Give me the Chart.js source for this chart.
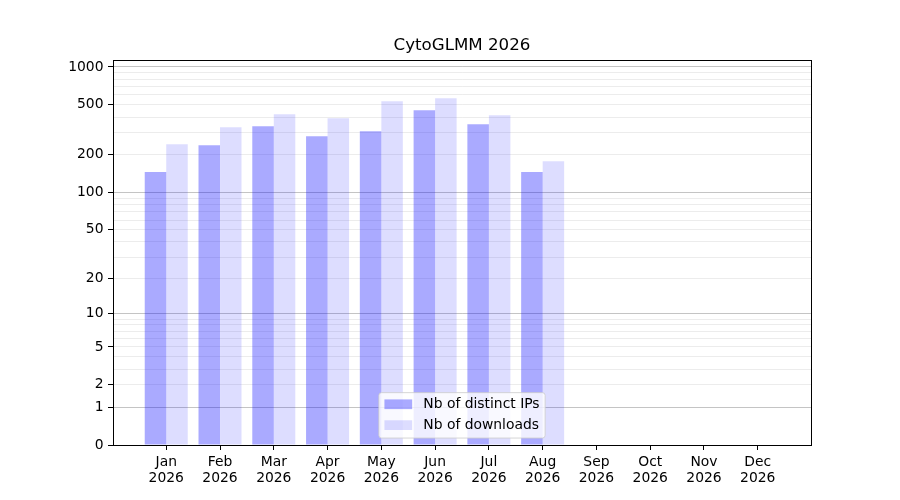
<!DOCTYPE html>
<html><head><meta charset="utf-8">
<script src="https://cdn.jsdelivr.net/npm/chart.js@4.4.1/dist/chart.umd.min.js"></script>
<style>html,body{margin:0;padding:0;background:#fff}#wrap{width:900px;height:500px;position:relative}</style>
</head><body><div id="wrap"><canvas id="c"></canvas></div>
<script>
// ---- data ----
const chartTitle = 'CytoGLMM 2026';
const monthLabels = [['Jan','2026'],['Feb','2026'],['Mar','2026'],['Apr','2026'],['May','2026'],['Jun','2026'],
                     ['Jul','2026'],['Aug','2026'],['Sep','2026'],['Oct','2026'],['Nov','2026'],['Dec','2026']];
const distinctIPs = [146, 238, 338, 281, 308, 453, 350, 146, 0, 0, 0, 0];
const downloads   = [243, 332, 421, 391, 534, 564, 413, 178, 0, 0, 0, 0];
const seriesNames = ['Nb of distinct IPs', 'Nb of downloads'];
const yTickLabels = [0, 1, 2, 5, 10, 20, 50, 100, 200, 500, 1000];
const yGridValues = [0, 1, 2, 3, 4, 5, 6, 7, 8, 9, 10, 20, 30, 40, 50, 60, 70, 80, 90,
                     100, 200, 300, 400, 500, 600, 700, 800, 900, 1000];
const yMajorGrid = [1, 10, 100, 1000];

const FONT = 'DejaVu Sans';
const FS = 13.89;

// ---- log10(1+x) scale ----
class Log1pScale extends Chart.Scale {
  static id = 'log1p';
  static defaults = {};
  determineDataLimits() {
    const mm = this.getMinMax(true);
    this.min = (this.options.min !== undefined) ? this.options.min : Math.max(0, mm.min);
    this.max = (this.options.max !== undefined) ? this.options.max : mm.max;
  }
  buildTicks() {
    return yGridValues.filter(v => v >= this.min && v <= this.max).map(v => ({value: v}));
  }
  configure() {
    super.configure();
    this._startValue = Math.log10(1 + this.min);
    this._valueRange = Math.log10(1 + this.max) - this._startValue;
  }
  getPixelForValue(value) {
    if (value === null || value === undefined || isNaN(value)) return NaN;
    return this.getPixelForDecimal((Math.log10(1 + Math.max(value, 0)) - this._startValue) / this._valueRange);
  }
  getValueForPixel(pixel) {
    return Math.pow(10, this._startValue + this.getDecimalForPixel(pixel) * this._valueRange) - 1;
  }
  getLabelForValue(value) { return String(value); }
}
Chart.register(Log1pScale);

const colIP = 'rgba(0,0,255,0.333)';
const colDL = 'rgba(0,0,255,0.135)';

// ---- frame + legend plugin ----
const frameLegend = {
  id: 'frameLegend',
  afterDatasetsDraw(chart) {
    const {ctx, chartArea: a} = chart;
    ctx.save();
    const al = p => Math.round(p - 0.5) + 0.5;
    ctx.strokeStyle = '#000';
    ctx.lineWidth = 1;
    ctx.strokeRect(al(a.left), al(a.top), al(a.right) - al(a.left), al(a.bottom) - al(a.top));
    ctx.font = FS + 'px "' + FONT + '"';
    const tw = Math.max(...seriesNames.map(s => ctx.measureText(s).width));
    const pad = 0.4 * FS, hl = 2.0 * FS, htp = 0.8 * FS, hh = 0.7 * FS;
    const w = pad + hl + htp + tw + pad;
    const h = 45.4;
    const x0 = (a.left + a.right) / 2 - w / 2;
    const y0 = a.bottom - 0.5 * FS - h;
    const r = 2.8;
    ctx.beginPath();
    ctx.moveTo(x0 + r, y0);
    ctx.lineTo(x0 + w - r, y0); ctx.quadraticCurveTo(x0 + w, y0, x0 + w, y0 + r);
    ctx.lineTo(x0 + w, y0 + h - r); ctx.quadraticCurveTo(x0 + w, y0 + h, x0 + w - r, y0 + h);
    ctx.lineTo(x0 + r, y0 + h); ctx.quadraticCurveTo(x0, y0 + h, x0, y0 + h - r);
    ctx.lineTo(x0, y0 + r); ctx.quadraticCurveTo(x0, y0, x0 + r, y0);
    ctx.closePath();
    ctx.fillStyle = 'rgba(255,255,255,0.8)';
    ctx.fill();
    ctx.strokeStyle = 'rgba(204,204,204,0.8)';
    ctx.lineWidth = 1;
    ctx.stroke();
    const centers = [y0 + 11.6, y0 + 32.5];
    chart.data.datasets.forEach((ds, i) => {
      const cy = centers[i];
      ctx.fillStyle = ds.backgroundColor;
      ctx.fillRect(x0 + pad, cy - hh / 2, hl, hh);
      ctx.fillStyle = '#000';
      ctx.textAlign = 'left';
      ctx.textBaseline = 'middle';
      ctx.fillText(ds.label, x0 + pad + hl + htp, cy);
    });
    ctx.restore();
  }
};

const labelSet = new Set(yTickLabels);
const majorSet = new Set(yMajorGrid);

Chart.defaults.font.family = FONT;
Chart.defaults.font.size = FS;
Chart.defaults.color = '#000';

new Chart(document.getElementById('c'), {
  type: 'bar',
  data: {
    datasets: [
      { label: seriesNames[0], data: distinctIPs.map((v, i) => ({x: i, y: v})), backgroundColor: colIP, borderWidth: 0 },
      { label: seriesNames[1], data: downloads.map((v, i) => ({x: i, y: v})), backgroundColor: colDL, borderWidth: 0 }
    ]
  },
  options: {
    responsive: true,
    maintainAspectRatio: false,
    animation: false,
    events: [],
    layout: { padding: { left: 0, right: 89, top: 0, bottom: 0 } },
    datasets: { bar: { categoryPercentage: 0.8, barPercentage: 1.0 } },
    plugins: {
      legend: { display: false },
      tooltip: { enabled: false },
      title: {
        display: true, text: chartTitle, fullSize: false, color: '#000',
        font: { family: FONT, size: 16.67, weight: 'normal', lineHeight: 1.2 },
        padding: { top: 35.5, bottom: 4.5 }
      }
    },
    scales: {
      x: {
        type: 'linear',
        min: -0.99, max: 11.99,
        offset: false,
        afterBuildTicks: s => { s.ticks = monthLabels.map((_, i) => ({value: i})); },
        afterFit: s => { s.height = 55; },
        ticks: {
          autoSkip: false, maxRotation: 0, minRotation: 0, padding: 4,
          color: '#000',
          font: { family: FONT, size: FS, lineHeight: 1.15 },
          callback: v => monthLabels[v] || ''
        },
        grid: { display: true, offset: false, drawOnChartArea: false, drawTicks: true, tickLength: 5, tickColor: '#000', tickWidth: 1 },
        border: { display: true, color: '#000', width: 1 }
      },
      y: {
        type: 'log1p',
        position: 'left',
        min: 0, max: 1136,
        afterFit: s => { s.width = 113; },
        ticks: {
          autoSkip: false, padding: 4.5, color: '#000',
          font: { family: FONT, size: FS },
          callback: v => labelSet.has(v) ? String(v) : ''
        },
        grid: {
          display: true, offset: false, drawOnChartArea: true, drawTicks: true, tickLength: 5, lineWidth: 1,
          color: c => (c.tick && majorSet.has(c.tick.value)) ? 'rgba(0,0,0,0.23)' : 'rgba(0,0,0,0.075)',
          tickColor: c => (c.tick && labelSet.has(c.tick.value)) ? '#000' : 'rgba(0,0,0,0)'
        },
        border: { display: true, color: '#000', width: 1 }
      }
    }
  },
  plugins: [frameLegend]
});
</script></body></html>
